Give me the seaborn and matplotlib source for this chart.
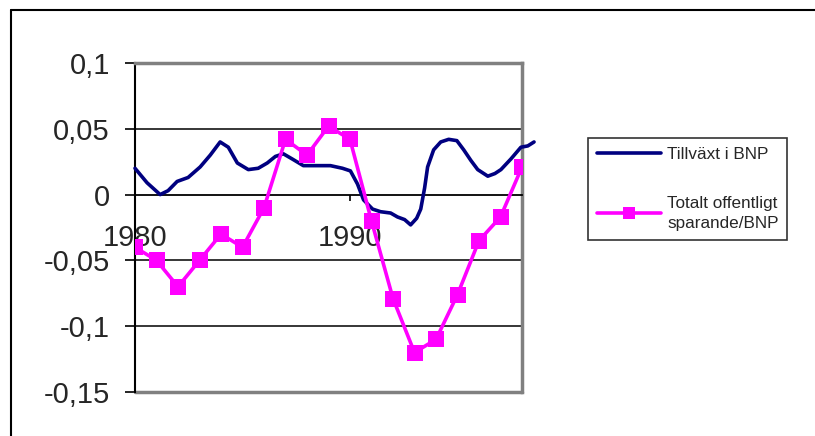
import matplotlib
matplotlib.use("Agg")
import matplotlib.pyplot as plt
import seaborn as sns
import pandas as pd
from matplotlib.lines import Line2D

# Tillväxt i BNP
bnp_ar = [1980.0, 1980.56, 1981.17, 1981.54, 1981.96, 1982.47, 1983.03, 1983.5, 1983.96,
          1984.34, 1984.76, 1985.27, 1985.73, 1986.15, 1986.53, 1986.9, 1987.32, 1987.83,
          1988.53, 1989.09, 1989.65, 1990.02, 1990.35, 1990.63, 1991.05, 1991.42, 1991.89,
          1992.21, 1992.54, 1992.82, 1993.1, 1993.29, 1993.47, 1993.61, 1993.89, 1994.22,
          1994.59, 1994.97, 1995.29, 1995.62, 1995.94, 1996.41, 1996.74, 1997.02, 1997.48,
          1997.95, 1998.27, 1998.56]
bnp_varde = [0.020, 0.009, 0.000, 0.003, 0.010, 0.013, 0.021, 0.030, 0.040,
             0.036, 0.024, 0.019, 0.020, 0.024, 0.029, 0.031, 0.027, 0.022,
             0.022, 0.022, 0.020, 0.018, 0.008, -0.004, -0.011, -0.013, -0.014,
             -0.017, -0.019, -0.023, -0.018, -0.011, 0.005, 0.021, 0.034, 0.040,
             0.042, 0.041, 0.034, 0.026, 0.019, 0.014, 0.016, 0.019, 0.027,
             0.036, 0.037, 0.040]

# Totalt offentligt sparande/BNP
spar_ar = list(range(1980, 1999))
spar_varde = [-0.040, -0.050, -0.070, -0.050, -0.030, -0.040, -0.010, 0.042, 0.030,
              0.052, 0.042, -0.020, -0.079, -0.120, -0.110, -0.076, -0.035, -0.017, 0.021]

y_ticks = [0.1, 0.05, 0, -0.05, -0.1, -0.15]
y_labels = ["0,1", "0,05", "0", "-0,05", "-0,1", "-0,15"]
x_ticks = [1980, 1990]
x_labels = ["1980", "1990"]

serie1 = "Tillväxt i BNP"
serie2 = "Totalt offentligt\nsparande/BNP"

sns.set_style("white")
plt.rcParams['font.family'] = ['Liberation Sans', 'DejaVu Sans']

df1 = pd.DataFrame({'ar': bnp_ar, 'varde': bnp_varde})
df2 = pd.DataFrame({'ar': spar_ar, 'varde': spar_varde})

fig = plt.figure(figsize=(8.15, 4.36), dpi=100)
ax = fig.add_axes([135 / 815, 1 - 392 / 436, (522 - 135) / 815, (392 - 63) / 436])

sns.lineplot(data=df1, x='ar', y='varde', ax=ax, color='#000080', linewidth=2.6,
             label=serie1, clip_on=False, zorder=3, solid_joinstyle='round',
             solid_capstyle='round')
sns.lineplot(data=df2, x='ar', y='varde', ax=ax, color='#FF00FF', linewidth=2.6,
             marker='s', markersize=12, markeredgewidth=0, label=serie2, zorder=4,
             solid_joinstyle='round')

ax.set_xlim(1980, 1998)
ax.set_ylim(-0.15, 0.1)
ax.set_yticks(y_ticks)
ax.set_yticklabels(y_labels)
ax.set_xticks(x_ticks)
ax.set_xticklabels(x_labels)
ax.set_xlabel("")
ax.set_ylabel("")

for y in [0.05, -0.05, -0.1]:
    ax.axhline(y, color='black', linewidth=1.1, zorder=1)
ax.axhline(-0.15, color='#808080', linewidth=2.5, zorder=2, clip_on=False)

ax.spines['bottom'].set_position(('data', 0))
ax.spines['bottom'].set_color('black')
ax.spines['bottom'].set_linewidth(1.3)
ax.spines['left'].set_color('black')
ax.spines['left'].set_linewidth(1.5)
for s in ['top', 'right']:
    ax.spines[s].set_color('#808080')
    ax.spines[s].set_linewidth(2.5)

ax.tick_params(axis='y', direction='out', length=7, width=1.2, pad=11,
               labelsize=21, left=True, color='black')
ax.tick_params(axis='x', direction='out', length=4.5, width=1.2, pad=17,
               labelsize=21, bottom=True, color='black')

leg = ax.legend(loc='upper left', bbox_to_anchor=(588 / 815, 1 - 138 / 436),
                bbox_transform=fig.transFigure, fontsize=12.3, frameon=True,
                fancybox=False, edgecolor='black', handlelength=3.8,
                handletextpad=0.35, labelspacing=2.0, borderpad=0.5,
                borderaxespad=0)
leg.get_frame().set_linewidth(1.2)
for t in leg.get_texts():
    t.set_linespacing(1.45)
for h in leg.legend_handles:
    h.set_markersize(8)

# outer frame (only left and top visible)
fig.add_artist(Line2D([10.5 / 815, 10.5 / 815], [0, 1 - 10.5 / 436],
                      transform=fig.transFigure, color='black', linewidth=1.5))
fig.add_artist(Line2D([10.5 / 815, 1], [1 - 10.5 / 436, 1 - 10.5 / 436],
                      transform=fig.transFigure, color='black', linewidth=1.5))

plt.savefig('out.png', dpi=100)
